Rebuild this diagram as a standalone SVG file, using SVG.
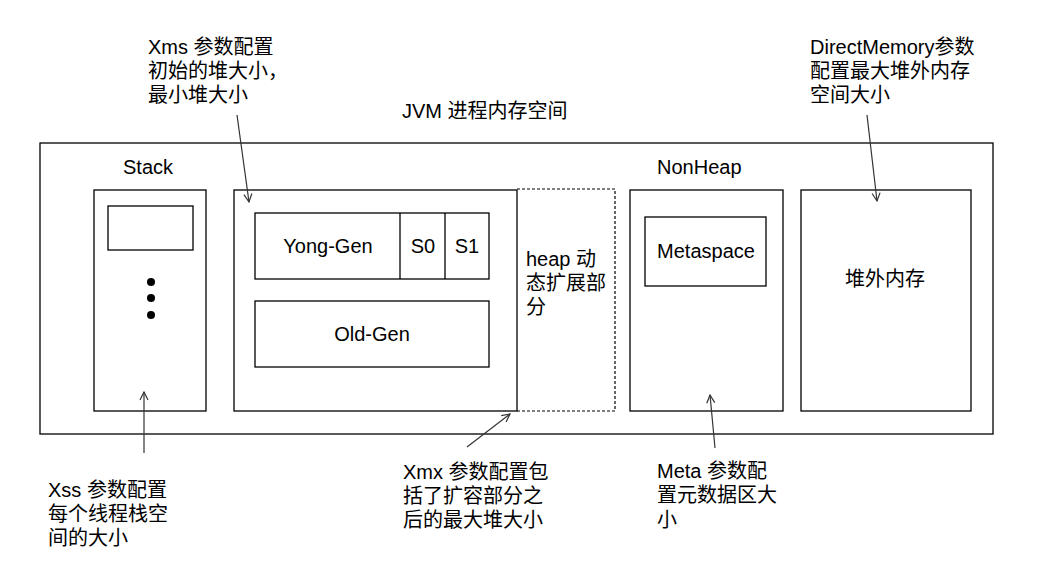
<svg xmlns="http://www.w3.org/2000/svg" width="1041" height="579" viewBox="0 0 1041 579">
<defs>
<marker id="arr" viewBox="0 0 10 10" refX="9" refY="5" markerWidth="10" markerHeight="10" markerUnits="userSpaceOnUse" orient="auto">
<path d="M1,1 L9,5 L1,9" fill="none" stroke="#333" stroke-width="1.2"/>
</marker>
<style>
.box{fill:none;stroke:#000;stroke-width:1.3}
.dash{fill:none;stroke:#000;stroke-width:1.2;stroke-dasharray:3,2}
.t{font-family:"Liberation Sans","Noto Sans CJK SC",sans-serif;font-size:20px;fill:#000}
.m{text-anchor:middle}
.c{fill:none;stroke:#333;stroke-width:1.2;marker-end:url(#arr)}
</style>
</defs>
<rect width="1041" height="579" fill="#fff"/>
<g id="jvm">
<rect class="box" x="40" y="143" width="953" height="291"/>
<text class="t" x="402" y="118">JVM 进程内存空间</text>
</g>
<g id="stack">
<text class="t" x="123" y="174">Stack</text>
<rect class="box" x="94" y="190" width="112" height="221"/>
<rect class="box" x="108" y="206" width="85" height="44"/>
<circle cx="151" cy="282" r="4" fill="#000"/>
<circle cx="151" cy="298" r="4" fill="#000"/>
<circle cx="151" cy="315" r="4" fill="#000"/>
</g>
<g id="heap-ext">
<path class="dash" d="M517,189 H615 V411 H517"/>
<text class="t" x="526" y="266">heap 动</text>
<text class="t" x="526" y="290">态扩展部</text>
<text class="t" x="526" y="314">分</text>
</g>
<g id="heap">
<rect class="box" x="234" y="190" width="283" height="221"/>
</g>
<g id="young">
<rect class="box" x="255" y="213" width="234" height="66"/>
<line class="box" x1="400" y1="213" x2="400" y2="279"/>
<line class="box" x1="445" y1="213" x2="445" y2="279"/>
<text class="t m" x="328" y="253">Yong-Gen</text>
<text class="t m" x="423" y="253">S0</text>
<text class="t m" x="467" y="253">S1</text>
</g>
<g id="old">
<rect class="box" x="255" y="301" width="234" height="66"/>
<text class="t m" x="372" y="341">Old-Gen</text>
</g>
<g id="nonheap">
<text class="t" x="657" y="174">NonHeap</text>
<rect class="box" x="630" y="190" width="153" height="221"/>
</g>
<g id="metaspace">
<rect class="box" x="645" y="217" width="121" height="69"/>
<text class="t m" x="706" y="258">Metaspace</text>
</g>
<g id="offheap">
<rect class="box" x="801" y="190" width="170" height="221"/>
<text class="t m" x="885" y="286">堆外内存</text>
</g>
<g id="note-xms">
<text class="t" x="148" y="54">Xms 参数配置</text>
<text class="t" x="148" y="78">初始的堆大小，</text>
<text class="t" x="148" y="102">最小堆大小</text>
</g>
<g id="note-direct">
<text class="t" x="810" y="54">DirectMemory参数</text>
<text class="t" x="810" y="78">配置最大堆外内存</text>
<text class="t" x="810" y="102">空间大小</text>
</g>
<g id="note-xss">
<text class="t" x="48" y="497">Xss 参数配置</text>
<text class="t" x="48" y="521">每个线程栈空</text>
<text class="t" x="48" y="545">间的大小</text>
</g>
<g id="note-xmx">
<text class="t" x="403" y="479">Xmx 参数配置包</text>
<text class="t" x="403" y="503">括了扩容部分之</text>
<text class="t" x="403" y="527">后的最大堆大小</text>
</g>
<g id="note-meta">
<text class="t" x="657" y="478">Meta 参数配</text>
<text class="t" x="657" y="502">置元数据区大</text>
<text class="t" x="657" y="527">小</text>
</g>
<g id="connectors">
<line class="c" x1="237" y1="115" x2="249" y2="202"/>
<line class="c" x1="867" y1="115" x2="877" y2="201"/>
<line class="c" x1="144" y1="453" x2="144" y2="392"/>
<line class="c" x1="467" y1="447" x2="510" y2="414"/>
<line class="c" x1="715" y1="448" x2="710" y2="395"/>
</g>
</svg>
